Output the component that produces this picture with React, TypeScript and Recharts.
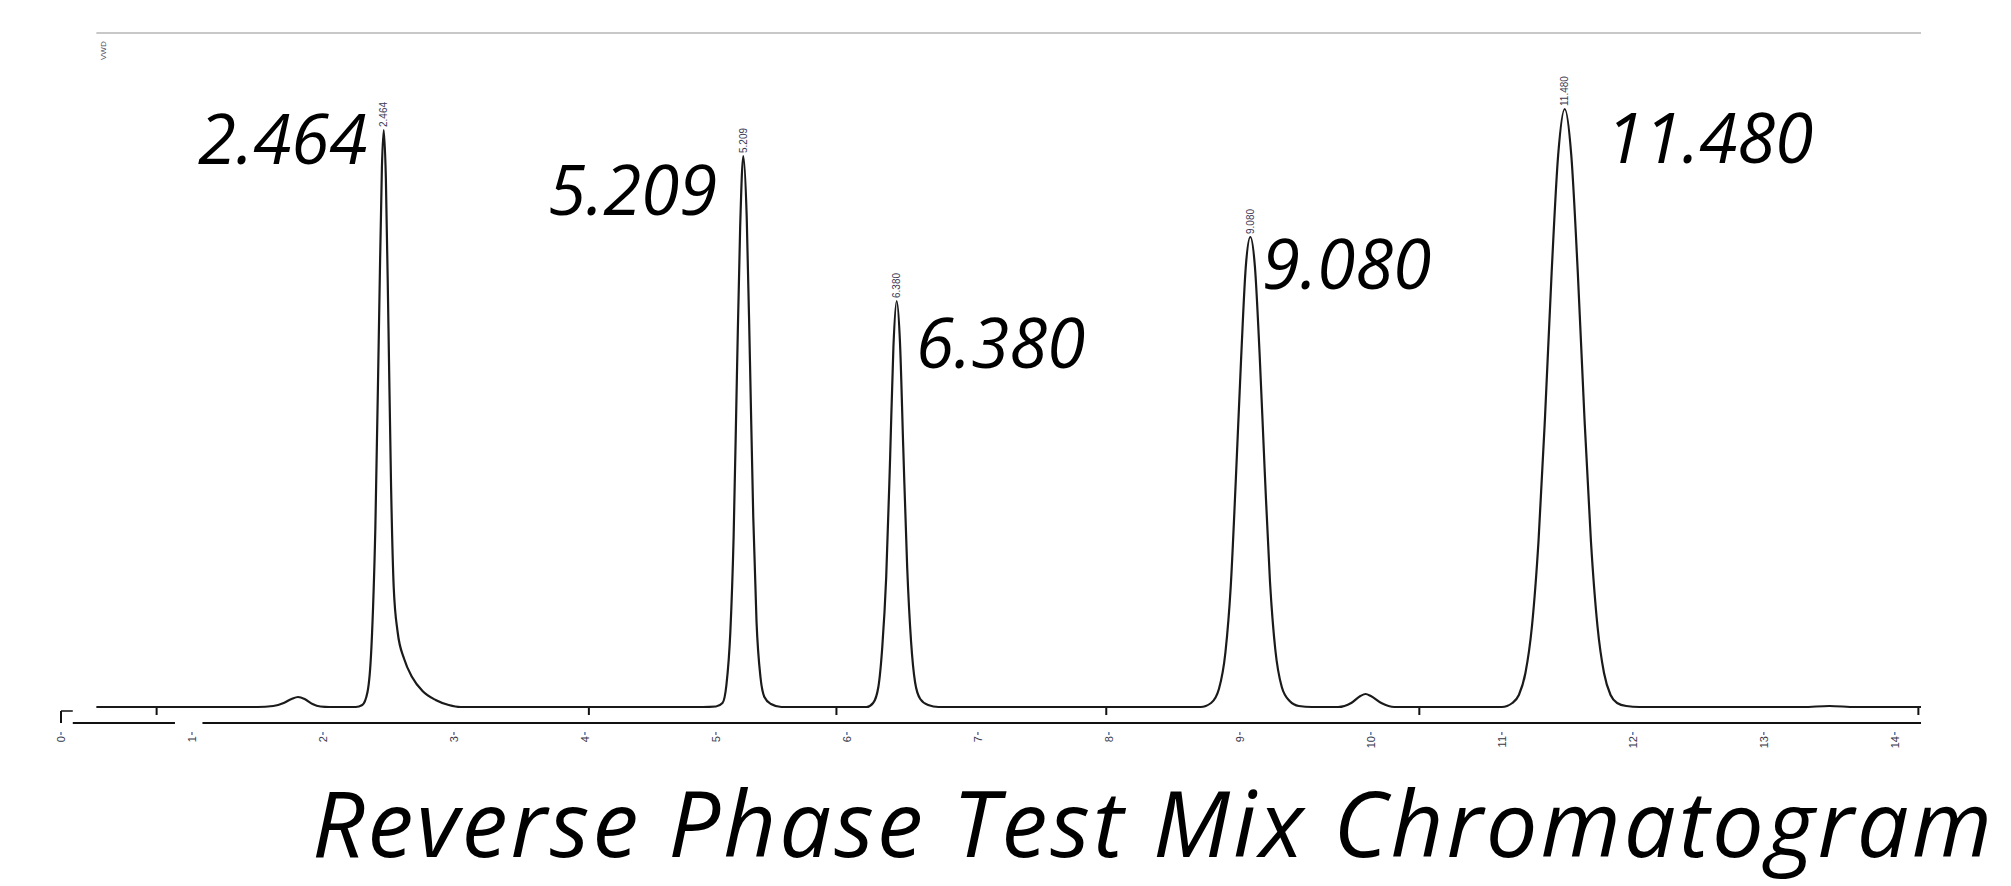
import React from "react";
import { ComposedChart, Line, Scatter, XAxis, YAxis, ReferenceLine } from "recharts";

// Trace (time in minutes, detector signal in arbitrary units)
const traceTime = [
  0.27, 1.0, 1.5, 1.62, 1.7, 1.76, 1.81, 1.86, 1.92, 1.98, 2.05,
  2.25, 2.3, 2.34, 2.37, 2.4, 2.43, 2.45, 2.464, 2.48, 2.5, 2.52, 2.54, 2.57, 2.62, 2.68, 2.76, 2.86, 2.96, 3.05,
  4.9, 5.0, 5.05, 5.08, 5.11, 5.135, 5.16, 5.185, 5.209, 5.235, 5.26, 5.285, 5.31, 5.34, 5.37, 5.42, 5.5,
  6.15, 6.2, 6.24, 6.27, 6.3, 6.33, 6.355, 6.38, 6.405, 6.43, 6.46, 6.49, 6.52, 6.56, 6.62, 6.7,
  8.7, 8.78, 8.84, 8.89, 8.93, 8.97, 9.01, 9.045, 9.08, 9.115, 9.15, 9.19, 9.23, 9.27, 9.32, 9.38, 9.45, 9.55,
  9.75, 9.85, 9.92, 9.96, 10.0, 10.08, 10.18,
  11.0, 11.08, 11.13, 11.18, 11.23, 11.28, 11.33, 11.38, 11.43, 11.48, 11.53, 11.58, 11.63, 11.68, 11.73, 11.78, 11.83, 11.88, 11.95, 12.05,
  13.3, 13.5, 13.7, 14.2,
];
const traceSignal = [
  0, 0, 0, 1, 4, 8, 10, 8, 3, 0.5, 0,
  0, 2, 15, 60, 180, 400, 540, 577, 530, 380, 220, 120, 75, 48, 30, 16, 7, 2, 0,
  0, 0.5, 4, 22, 75, 170, 330, 480, 551, 490, 345, 190, 85, 30, 10, 3, 0,
  0, 4, 20, 60, 130, 250, 360, 406, 365, 260, 140, 65, 25, 8, 2, 0,
  0, 4, 18, 55, 120, 230, 350, 440, 470, 440, 355, 235, 125, 58, 20, 6, 1, 0,
  0, 4, 11, 13, 11, 4, 0,
  0, 4, 12, 34, 81, 166, 291, 434, 552, 598, 552, 434, 291, 166, 81, 34, 12, 4, 1, 0,
  0, 1, 0, 0,
];

const peakTimes = [2.464, 5.209, 6.38, 9.08, 11.48];
const peakHeights = [577, 551, 406, 470, 598];
const peakLabels = ["2.464", "5.209", "6.380", "9.080", "11.480"];

const xTicks = [0, 1, 2, 3, 4, 5, 6, 7, 8, 9, 10, 11, 12, 13, 14];
const upperTicks = [0.73, 4.03, 5.92, 7.98, 10.37, 14.18];

const titleText = "Reverse Phase Test Mix Chromatogram";
const detectorText = "VWD";

const traceData = traceTime.map((t, i) => ({ t, v: traceSignal[i] }));
const peakData = peakTimes.map((t, i) => ({ t, v: peakHeights[i], label: peakLabels[i] }));

// Layout of the big annotation labels (baseline positions in pixels)
const bigLabelPos = [
  { x: 198, y: 164 },
  { x: 548, y: 215 },
  { x: 916, y: 368 },
  { x: 1262, y: 289 },
  { x: 1606, y: 163 },
];

const W = 2011;
const H = 886;

const XTick = (props: any) => {
  const { x, y, payload } = props;
  return (
    <g transform={`translate(${x},${y})`}>
      <line x1={0} y1={1} x2={0} y2={4} stroke="#5a78b0" strokeWidth={1.5} />
      <text
        transform="rotate(-90)"
        x={-5}
        y={4}
        textAnchor="end"
        fontSize={11}
        fontFamily="Liberation Sans, Arial, sans-serif"
        fill="#3a3a4a"
      >
        {payload.value}
      </text>
    </g>
  );
};

const PeakTag = (props: any) => {
  const { cx, cy, payload } = props;
  if (cx == null || cy == null) return <g />;
  return (
    <text
      transform={`translate(${cx + 3.5},${cy - 3}) rotate(-90)`}
      x={0}
      y={0}
      textAnchor="start"
      fontSize={10}
      fontFamily="Liberation Sans, Arial, sans-serif"
      fill="#3a3a55"
    >
      {payload.label}
    </text>
  );
};

export default function App() {
  return (
    <div style={{ position: "absolute", left: 0, top: 0, width: W, height: H, background: "#fff" }}>
      <ComposedChart
        width={W}
        height={H}
        data={traceData}
        margin={{ top: 33, right: 90, bottom: 133, left: 61 }}
      >
        <XAxis
          dataKey="t"
          type="number"
          domain={[0, 14.2]}
          ticks={xTicks}
          allowDataOverflow
          axisLine={false}
          tickLine={false}
          height={30}
          tick={<XTick />}
          interval={0}
        />
        <YAxis hide domain={[-16, 674]} allowDataOverflow />
        <ReferenceLine
          segment={[{ x: 0.27, y: 674 }, { x: 14.2, y: 674 }]}
          stroke="#c8c8c8"
          strokeWidth={2}
          ifOverflow="visible"
        />
        <ReferenceLine
          segment={[{ x: 0.09, y: -16 }, { x: 0.87, y: -16 }]}
          stroke="#111"
          strokeWidth={2}
          ifOverflow="visible"
        />
        <ReferenceLine
          segment={[{ x: 1.08, y: -16 }, { x: 14.2, y: -16 }]}
          stroke="#111"
          strokeWidth={2}
          ifOverflow="visible"
        />
        <ReferenceLine
          segment={[{ x: 0, y: -16 }, { x: 0, y: -4 }]}
          stroke="#111"
          strokeWidth={2}
          ifOverflow="visible"
        />
        <ReferenceLine
          segment={[{ x: 0, y: -4 }, { x: 0.09, y: -4 }]}
          stroke="#111"
          strokeWidth={1.5}
          ifOverflow="visible"
        />
        {upperTicks.map((t) => (
          <ReferenceLine
            key={t}
            segment={[{ x: t, y: 0 }, { x: t, y: -8 }]}
            stroke="#111"
            strokeWidth={2}
            ifOverflow="visible"
          />
        ))}
        <Line
          dataKey="v"
          type="monotone"
          stroke="#1a1a1a"
          strokeWidth={2.2}
          dot={false}
          isAnimationActive={false}
        />
        <Scatter data={peakData} dataKey="v" shape={<PeakTag />} isAnimationActive={false} />
      </ComposedChart>
      <svg
        width={W}
        height={H}
        style={{ position: "absolute", left: 0, top: 0, pointerEvents: "none" }}
      >
        <text
          transform="translate(106,60) rotate(-90)"
          fontSize={8}
          fontFamily="Liberation Sans, Arial, sans-serif"
          fill="#4a4a5a"
        >
          {detectorText}
        </text>
        {peakLabels.map((l, i) => (
          <text
            key={l}
            x={bigLabelPos[i].x}
            y={bigLabelPos[i].y}
            fontSize={69}
            fontStyle="italic"
            fontFamily="Open Sans, Noto Sans, sans-serif"
            fill="#000"
          >
            {l}
          </text>
        ))}
        <text
          x={312}
          y={857}
          fontSize={92}
          fontStyle="italic"
          fontFamily="Open Sans, Noto Sans, sans-serif"
          fill="#000"
          textLength={1680}
          lengthAdjust="spacing"
        >
          {titleText}
        </text>
      </svg>
    </div>
  );
}
